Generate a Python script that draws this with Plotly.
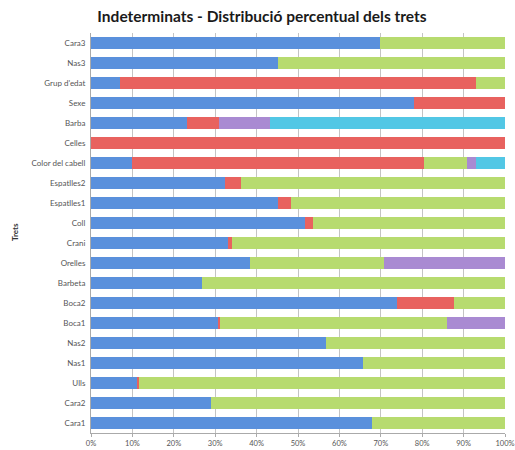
import plotly.graph_objects as go

categories = ["Cara1", "Cara2", "Ulls", "Nas1", "Nas2", "Boca1", "Boca2", "Barbeta",
              "Orelles", "Crani", "Coll", "Espatlles1", "Espatlles2", "Color del cabell",
              "Celles", "Barba", "Sexe", "Grup d'edat", "Nas3", "Cara3"]

blue = [67.8, 29.1, 11.0, 65.8, 56.7, 30.6, 74.0, 26.7, 38.3, 33.0, 51.6, 45.2, 32.4, 9.9,
        0, 23.3, 78.0, 7.1, 45.1, 69.8]
red = [0, 0, 0.7, 0, 0, 0.5, 13.7, 0, 0, 1.0, 2.0, 3.2, 3.8, 70.5,
       100, 7.6, 22.0, 85.9, 0, 0]
green = [32.2, 70.9, 88.3, 34.2, 43.3, 54.8, 12.3, 73.3, 32.5, 66.0, 46.4, 51.6, 63.8, 10.5,
         0, 0, 0, 7.0, 54.9, 30.2]
purple = [0, 0, 0, 0, 0, 14.1, 0, 0, 29.2, 0, 0, 0, 0, 2.0,
          0, 12.3, 0, 0, 0, 0]
cyan = [0, 0, 0, 0, 0, 0, 0, 0, 0, 0, 0, 0, 0, 7.1,
        0, 56.8, 0, 0, 0, 0]

x_ticks = [0, 10, 20, 30, 40, 50, 60, 70, 80, 90, 100]
x_tick_labels = [f"{v}%" for v in x_ticks]

series = [
    ("Sèrie 1", blue, "#5a90dc"),
    ("Sèrie 2", red, "#e8625f"),
    ("Sèrie 3", green, "#b7db6f"),
    ("Sèrie 4", purple, "#a98ad2"),
    ("Sèrie 5", cyan, "#52c7e5"),
]

fig = go.Figure()
for name, vals, col in series:
    fig.add_trace(go.Bar(
        y=categories, x=vals, name=name, orientation="h",
        marker=dict(color=col, line=dict(width=0)),
        width=0.62,
    ))

W, H = 515, 450
fig.update_layout(
    barmode="stack",
    width=W, height=H,
    margin=dict(l=91, r=10, t=33, b=17),
    paper_bgcolor="white", plot_bgcolor="white",
    showlegend=False,
    font=dict(family="Lato, 'Open Sans', sans-serif", color="#555555"),
    title=dict(
        text="<b>Indeterminats - Distribució percentual dels trets</b>",
        x=262 / W, xanchor="center", y=1 - 17 / H, yanchor="middle",
        font=dict(size=15.5, color="#1a1a1a", family="Lato, 'Open Sans', sans-serif"),
    ),
    xaxis=dict(
        range=[0, 100], tickvals=x_ticks, ticktext=x_tick_labels,
        showgrid=True, gridcolor="#c4c4c4", gridwidth=1,
        showline=True, linecolor="#aaaaaa", linewidth=1,
        ticks="outside", ticklen=3, tickcolor="#aaaaaa",
        tickfont=dict(size=7.5, color="#555555"), zeroline=False, fixedrange=True,
        automargin=False, ticklabeloverflow="allow",
    ),
    yaxis=dict(
        categoryorder="array", categoryarray=categories,
        range=[-0.5, len(categories) - 0.5],
        showline=True, linecolor="#aaaaaa", linewidth=1,
        ticks="outside", ticklen=3, tickcolor="rgba(0,0,0,0)",
        tickfont=dict(size=8, color="#555555"),
        showgrid=False, fixedrange=True, automargin=False,
    ),
    annotations=[dict(
        text="<b>Trets</b>", xref="paper", yref="paper",
        x=(15 - 91) / 414, y=(433 - 232) / 400, xanchor="center", yanchor="middle",
        textangle=-90, showarrow=False, font=dict(size=8, color="#333333"),
    )],
)

fig.write_html(
    "out.html",
    config={"displayModeBar": False},
    post_script="document.body.style.margin='0';document.body.style.overflow='hidden';",
)
